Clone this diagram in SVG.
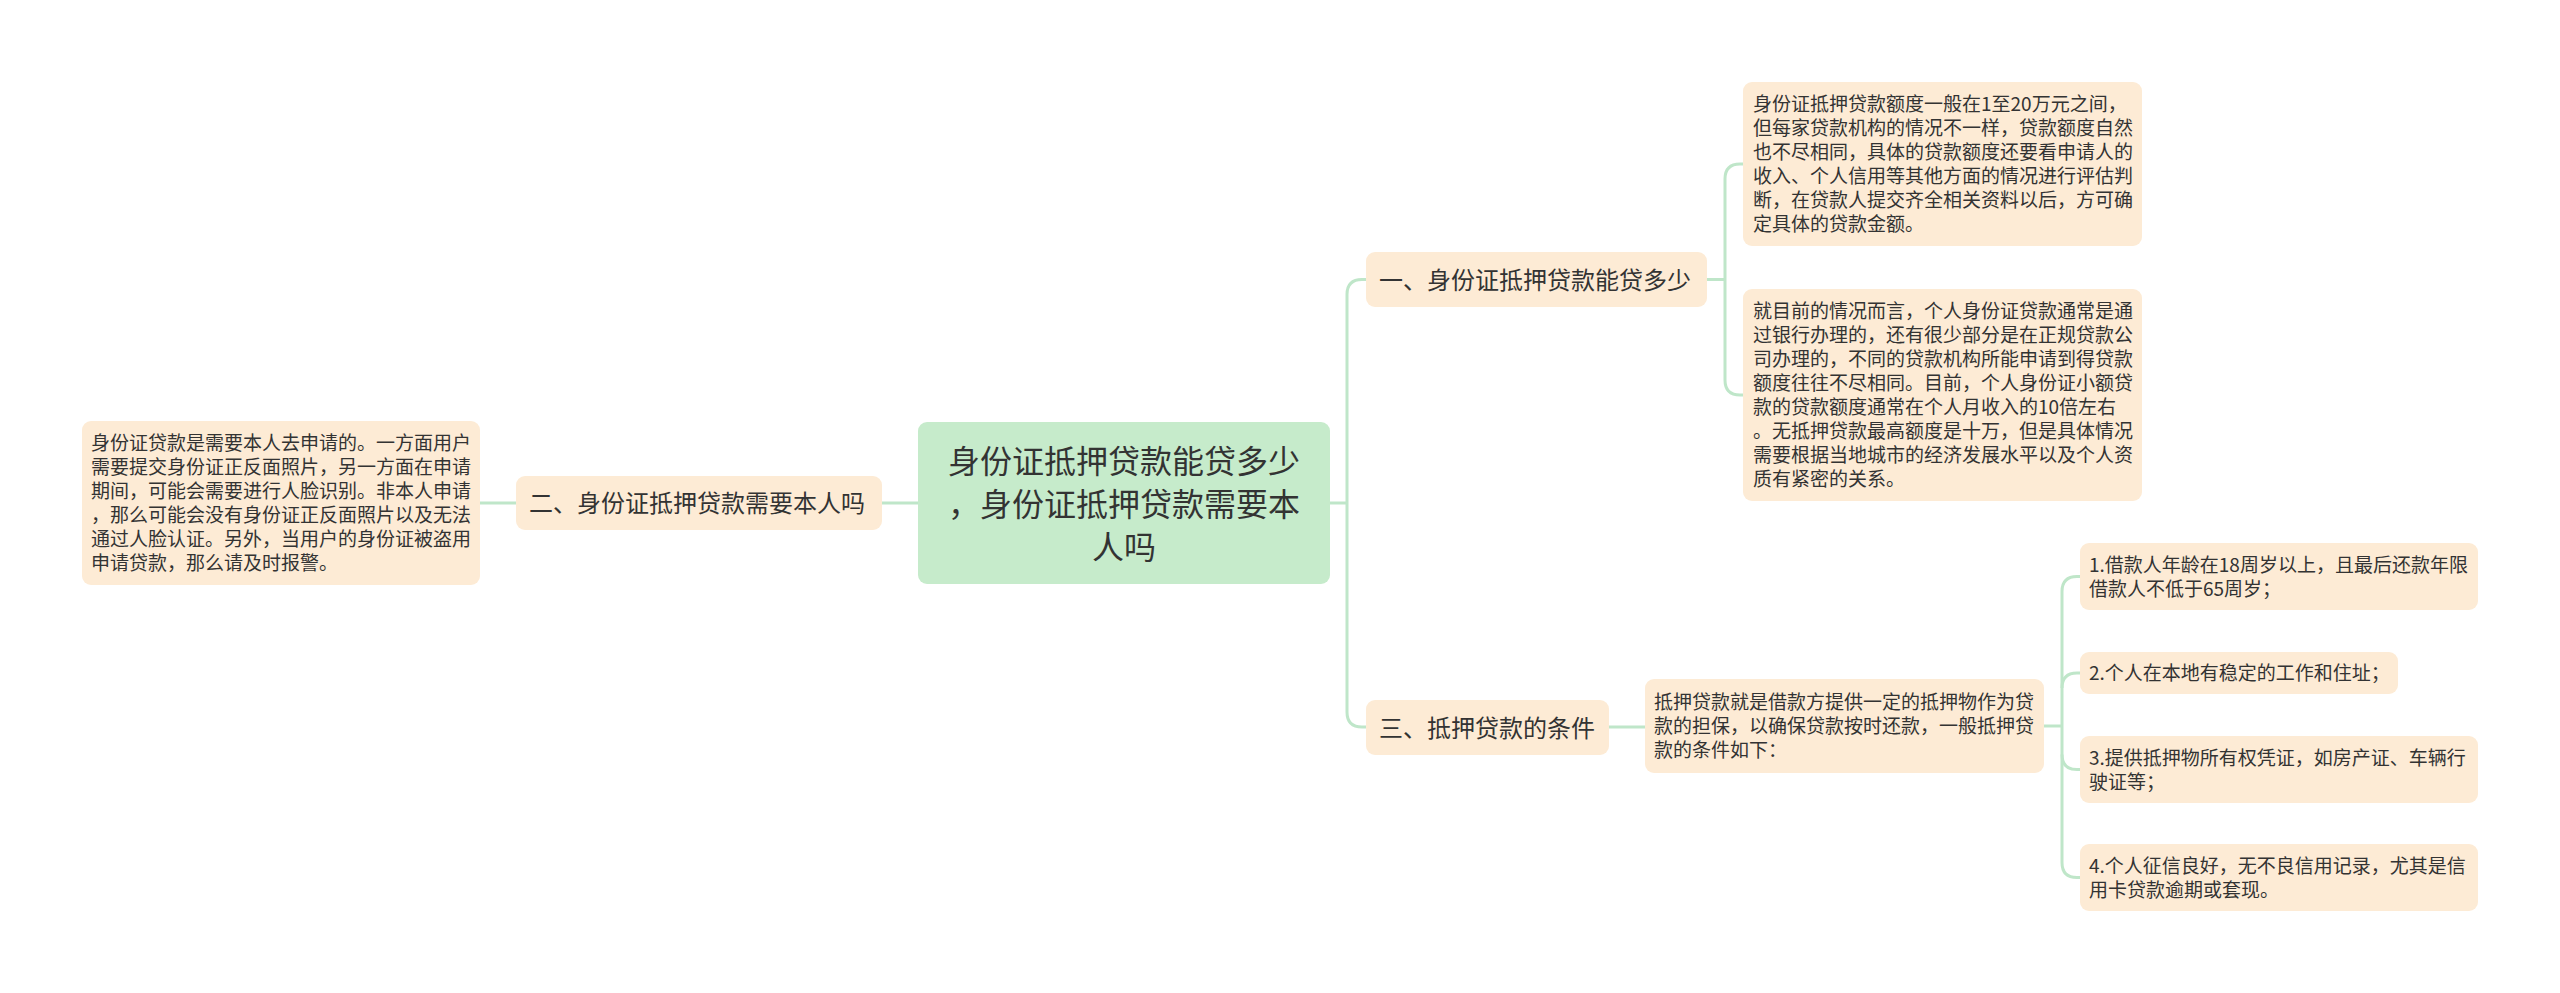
<svg xmlns="http://www.w3.org/2000/svg" width="2560" height="993" viewBox="0 0 2560 993">
<style>
.bg{fill:#ffffff}
.sub{fill:#fdebd5}
.root{fill:#c6ebcb}
.t{font-family:"Noto Sans CJK SC","Noto Sans",sans-serif;fill:#333333}
.s{font-size:19px}
.m{font-size:24px}
.r{font-size:32px;text-anchor:middle}
.c{fill:none;stroke:#bfe6c9;stroke-width:3}
</style>
<rect class="bg" x="0" y="0" width="2560" height="993"/>
<g id="connectors">
<path class="c" d="M918,503 H882"/>
<path class="c" d="M516,503 H480"/>
<path class="c" d="M1330,503 H1347"/>
<path class="c" d="M1366,279.5 H1362 Q1347,279.5 1347,294.5 V712 Q1347,727 1362,727 H1366"/>
<path class="c" d="M1707,279.5 H1725"/>
<path class="c" d="M1743,164 H1740 Q1725,164 1725,179 V380 Q1725,395 1740,395 H1743"/>
<path class="c" d="M1609,727 H1645"/>
<path class="c" d="M2044,726 H2062"/>
<path class="c" d="M2080,576.5 H2077 Q2062,576.5 2062,591.5 V862.5 Q2062,877.5 2077,877.5 H2080"/>
<path class="c" d="M2062,688 Q2062,673 2077,673 H2080"/>
<path class="c" d="M2062,754.5 Q2062,769.5 2077,769.5 H2080"/>
</g>
<g id="root">
<rect class="root" x="918" y="422" width="412" height="162" rx="9"/>
<text class="t r" x="1124" y="473">身份证抵押贷款能贷多少</text>
<text class="t r" x="1124" y="516">，身份证抵押贷款需要本</text>
<text class="t r" x="1124" y="559">人吗</text>
</g>
<g id="node-2">
<rect class="sub" x="516" y="476" width="366" height="54" rx="9"/>
<text class="t m" x="529" y="512">二、身份证抵押贷款需要本人吗</text>
</g>
<g id="node-2-text">
<rect class="sub" x="82" y="421" width="398" height="164" rx="9"/>
<text class="t s" x="91" y="450">身份证贷款是需要本人去申请的。一方面用户</text>
<text class="t s" x="91" y="474">需要提交身份证正反面照片，另一方面在申请</text>
<text class="t s" x="91" y="498">期间，可能会需要进行人脸识别。非本人申请</text>
<text class="t s" x="91" y="522">，那么可能会没有身份证正反面照片以及无法</text>
<text class="t s" x="91" y="546">通过人脸认证。另外，当用户的身份证被盗用</text>
<text class="t s" x="91" y="570">申请贷款，那么请及时报警。</text>
</g>
<g id="node-1">
<rect class="sub" x="1366" y="252" width="341" height="55" rx="9"/>
<text class="t m" x="1379" y="288.5">一、身份证抵押贷款能贷多少</text>
</g>
<g id="node-1-a">
<rect class="sub" x="1743" y="82" width="399" height="164" rx="9"/>
<text class="t s" x="1753" y="111">身份证抵押贷款额度一般在1至20万元之间，</text>
<text class="t s" x="1753" y="135">但每家贷款机构的情况不一样，贷款额度自然</text>
<text class="t s" x="1753" y="159">也不尽相同，具体的贷款额度还要看申请人的</text>
<text class="t s" x="1753" y="183">收入、个人信用等其他方面的情况进行评估判</text>
<text class="t s" x="1753" y="207">断，在贷款人提交齐全相关资料以后，方可确</text>
<text class="t s" x="1753" y="231">定具体的贷款金额。</text>
</g>
<g id="node-1-b">
<rect class="sub" x="1743" y="289" width="399" height="212" rx="9"/>
<text class="t s" x="1753" y="318">就目前的情况而言，个人身份证贷款通常是通</text>
<text class="t s" x="1753" y="342">过银行办理的，还有很少部分是在正规贷款公</text>
<text class="t s" x="1753" y="366">司办理的，不同的贷款机构所能申请到得贷款</text>
<text class="t s" x="1753" y="390">额度往往不尽相同。目前，个人身份证小额贷</text>
<text class="t s" x="1753" y="414">款的贷款额度通常在个人月收入的10倍左右</text>
<text class="t s" x="1753" y="438">。无抵押贷款最高额度是十万，但是具体情况</text>
<text class="t s" x="1753" y="462">需要根据当地城市的经济发展水平以及个人资</text>
<text class="t s" x="1753" y="486">质有紧密的关系。</text>
</g>
<g id="node-3">
<rect class="sub" x="1366" y="700" width="243" height="55" rx="9"/>
<text class="t m" x="1379" y="736.5">三、抵押贷款的条件</text>
</g>
<g id="node-3-text">
<rect class="sub" x="1645" y="679" width="399" height="94" rx="9"/>
<text class="t s" x="1654" y="709">抵押贷款就是借款方提供一定的抵押物作为贷</text>
<text class="t s" x="1654" y="733">款的担保，以确保贷款按时还款，一般抵押贷</text>
<text class="t s" x="1654" y="757">款的条件如下：</text>
</g>
<g id="item-1">
<rect class="sub" x="2080" y="543" width="398" height="67" rx="9"/>
<text class="t s" x="2089" y="571.5">1.借款人年龄在18周岁以上，且最后还款年限</text>
<text class="t s" x="2089" y="595.5">借款人不低于65周岁；</text>
</g>
<g id="item-2">
<rect class="sub" x="2080" y="652" width="318" height="42" rx="9"/>
<text class="t s" x="2089" y="680">2.个人在本地有稳定的工作和住址；</text>
</g>
<g id="item-3">
<rect class="sub" x="2080" y="736" width="398" height="67" rx="9"/>
<text class="t s" x="2089" y="764.5">3.提供抵押物所有权凭证，如房产证、车辆行</text>
<text class="t s" x="2089" y="788.5">驶证等；</text>
</g>
<g id="item-4">
<rect class="sub" x="2080" y="844" width="398" height="67" rx="9"/>
<text class="t s" x="2089" y="872.5">4.个人征信良好，无不良信用记录，尤其是信</text>
<text class="t s" x="2089" y="896.5">用卡贷款逾期或套现。</text>
</g>
</svg>
